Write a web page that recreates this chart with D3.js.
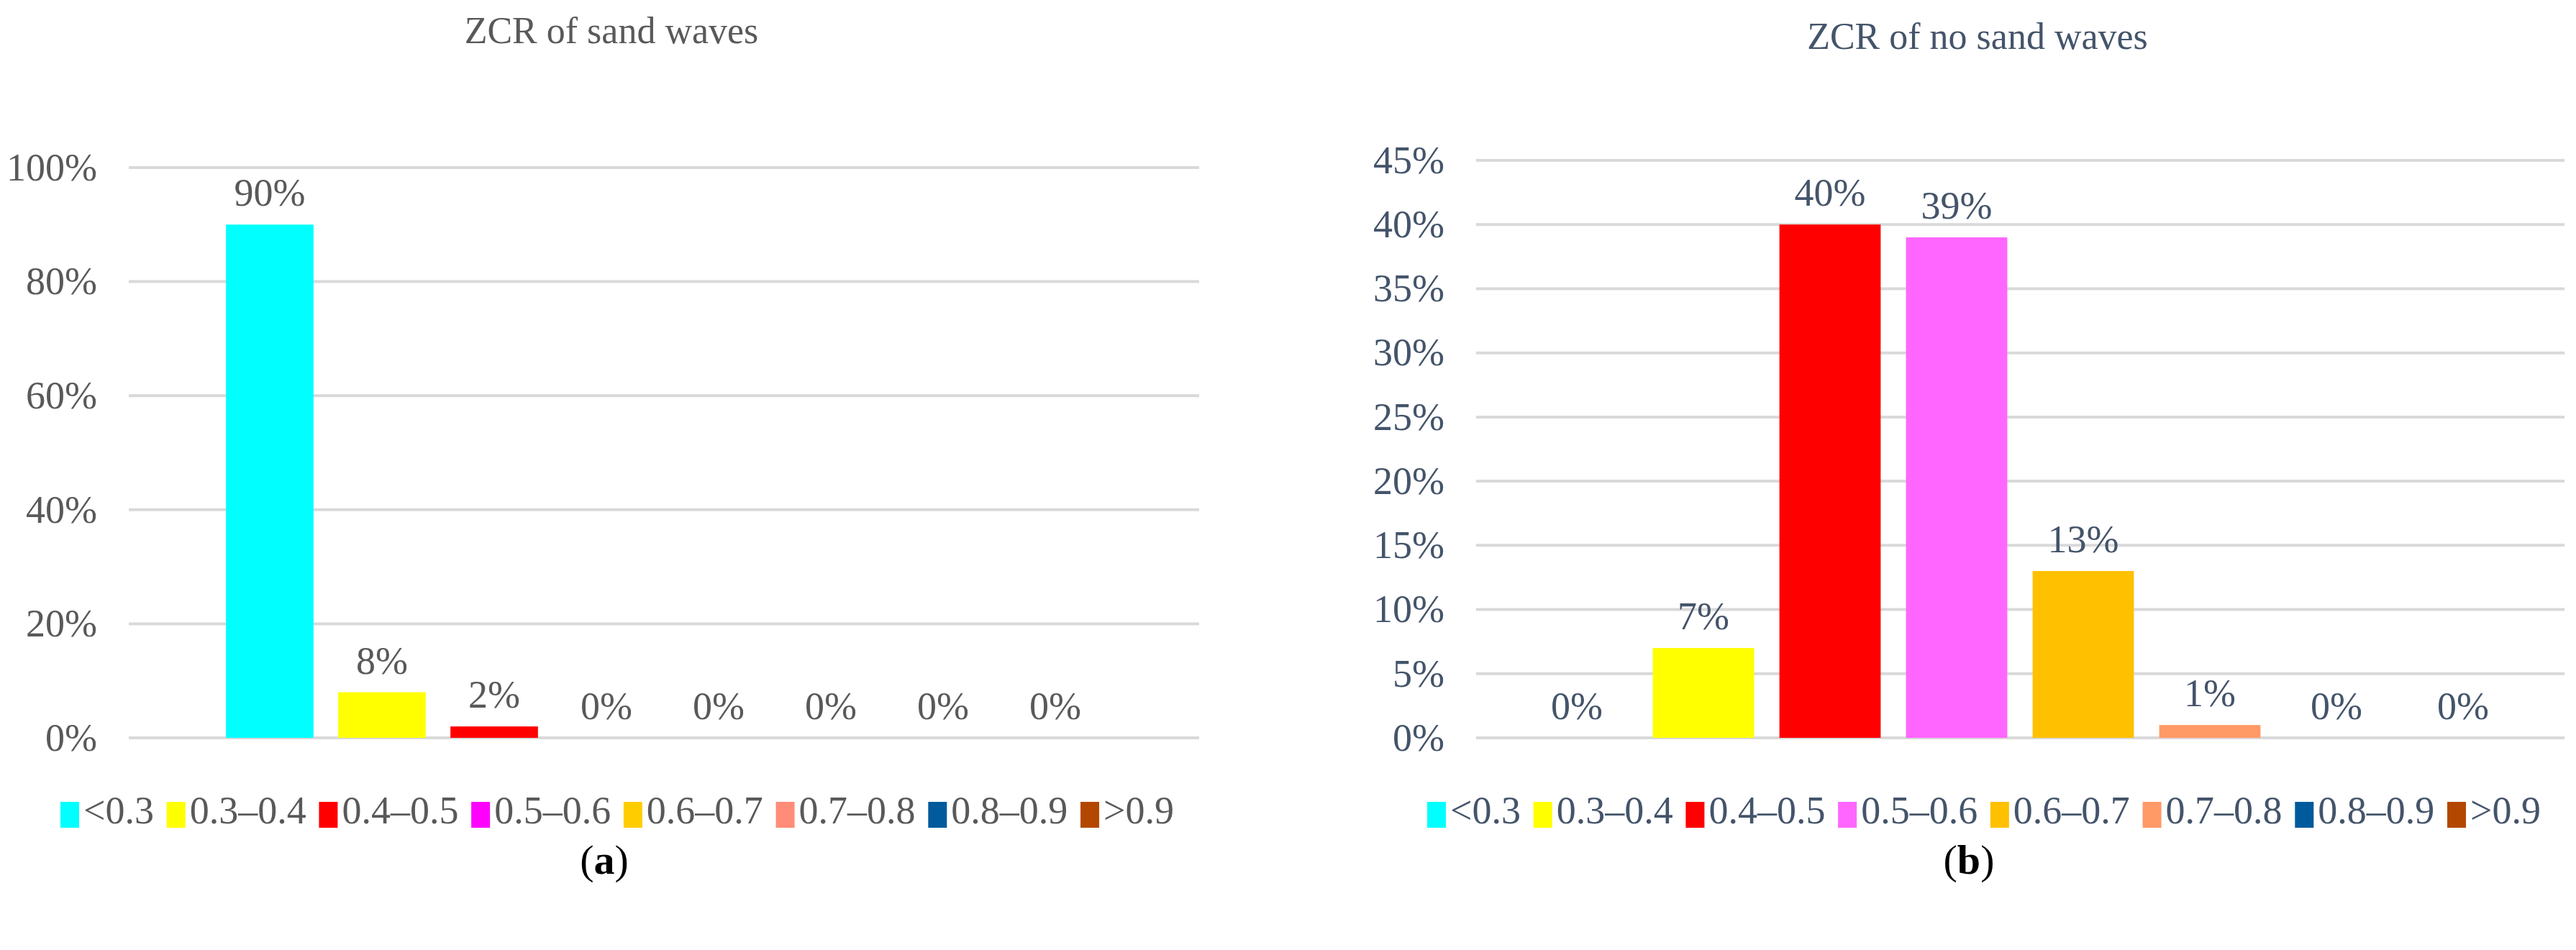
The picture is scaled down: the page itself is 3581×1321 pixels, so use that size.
<!DOCTYPE html>
<html>
<head>
<meta charset="utf-8">
<script src="https://cdn.jsdelivr.net/npm/d3@7"></script>
<style>
  body { margin: 0; background: #fff; }
  svg text { font-family: "Liberation Serif", "Times New Roman", serif; }
</style>
</head>
<body>
<svg id="chart" width="3581" height="1321"></svg>
<script>
const categories = ['<0.3', '0.3–0.4', '0.4–0.5', '0.5–0.6', '0.6–0.7', '0.7–0.8', '0.8–0.9', '>0.9'];
const sandValues = [90, 8, 2, 0, 0, 0, 0, 0];
const noSandValues = [0, 7, 40, 39, 13, 1, 0, 0];
const sandTicks = [0, 20, 40, 60, 80, 100];
const noSandTicks = [0, 5, 10, 15, 20, 25, 30, 35, 40, 45];
const colorsA = ['#00ffff', '#ffff00', '#ff0000', '#ff00ff', '#ffcc00', '#ff8c78', '#005a9c', '#b34700'];
const colorsB = ['#00ffff', '#ffff00', '#ff0000', '#ff66ff', '#ffc000', '#ff9966', '#005a9c', '#b34700'];

const svg = d3.select('#chart');
const FS = 54;

const panels = [
  { title: 'ZCR of sand waves', values: sandValues, ticks: sandTicks, max: 100, colors: colorsA,
    textColor: '#595959', gridX: [179, 1667], yTop: 233, yBottom: 1026, band: [297, 1545], pad: 0.22,
    titleX: 850, titleY: 48, legend: [84, 1632], tag: 'a', tagX: 840 },
  { title: 'ZCR of no sand waves', values: noSandValues, ticks: noSandTicks, max: 45, colors: colorsB,
    textColor: '#44546a', gridX: [2052, 3565], yTop: 223, yBottom: 1026, band: [2104, 3512], pad: 0.2,
    titleX: 2749, titleY: 56, legend: [1984, 3532], tag: 'b', tagX: 2737 }
];

panels.forEach(p => {
  const g = svg.append('g');
  const x = d3.scaleBand().domain(categories).range(p.band).paddingInner(p.pad).paddingOuter(p.pad / 2);
  const y = d3.scaleLinear().domain([0, p.max]).range([p.yBottom, p.yTop]);

  g.append('text').attr('x', p.titleX).attr('y', p.titleY).attr('text-anchor', 'middle')
    .attr('dominant-baseline', 'middle').attr('font-size', 52).attr('fill', p.textColor).text(p.title);

  // gridlines
  g.selectAll('.grid').data(p.ticks).enter().append('line')
    .attr('x1', p.gridX[0]).attr('x2', p.gridX[1])
    .attr('y1', d => y(d)).attr('y2', d => y(d))
    .attr('stroke', '#d9d9d9').attr('stroke-width', 4);

  // y axis labels
  const yAxis = d3.axisLeft(y).tickValues(p.ticks).tickFormat(d => d + '%').tickSize(0).tickPadding(14);
  const ax = g.append('g').attr('transform', `translate(${p.gridX[0] - 30},0)`).call(yAxis);
  ax.select('.domain').remove();
  ax.attr('font-family', null);
  ax.selectAll('text').attr('font-size', FS).attr('fill', p.textColor);

  g.selectAll('.bar').data(p.values).enter().append('rect')
    .attr('x', (d, i) => x(categories[i])).attr('width', x.bandwidth())
    .attr('y', d => y(d)).attr('height', d => p.yBottom - y(d))
    .attr('fill', (d, i) => p.colors[i]);

  g.selectAll('.lbl').data(p.values).enter().append('text')
    .attr('x', (d, i) => x(categories[i]) + x.bandwidth() / 2)
    .attr('y', d => y(d) - 26).attr('text-anchor', 'middle')
    .attr('font-size', FS).attr('fill', p.textColor).text(d => d + '%');

  // legend
  const lg = g.append('g');
  const items = lg.selectAll('g').data(categories).enter().append('g');
  items.append('rect').attr('width', 26).attr('height', 36).attr('y', -18)
    .attr('fill', (d, i) => p.colors[i]);
  items.append('text').attr('x', 32).attr('dominant-baseline', 'middle')
    .attr('font-size', FS).attr('fill', p.textColor).text(d => d);
  const widths = items.nodes().map(n => n.getBBox().width);
  const total = d3.sum(widths);
  const gap = (p.legend[1] - p.legend[0] - total) / (categories.length - 1);
  let cx = p.legend[0];
  items.attr('transform', (d, i) => { const t = `translate(${cx},1133)`; cx += widths[i] + gap; return t; });

  const tag = g.append('text').attr('x', p.tagX).attr('y', 1215).attr('text-anchor', 'middle')
    .attr('font-size', 58).attr('fill', '#000');
  tag.append('tspan').text('(');
  tag.append('tspan').attr('font-weight', 'bold').text(p.tag);
  tag.append('tspan').text(')');
});
</script>
</body>
</html>
